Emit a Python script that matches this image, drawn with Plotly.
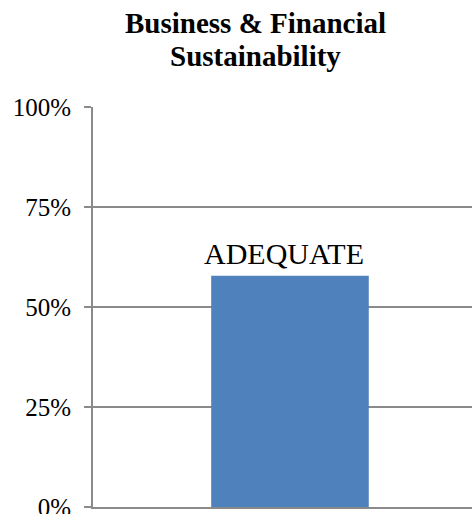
import plotly.graph_objects as go

categories = ["Business & Financial Sustainability"]
values = [0.578]
labels = ["ADEQUATE"]
title_lines = ["Business &amp; Financial", "Sustainability"]
tick_vals = [0, 0.25, 0.5, 0.75, 1.0]
tick_text = ["0%", "25%", "50%", "75%", "100%"]

GRID = "#8a8a8a"
SERIF = "Liberation Serif, Times New Roman, serif"

fig = go.Figure(
    go.Bar(
        x=categories,
        y=values,
        width=0.4,
        marker=dict(color="#4F81BD", line=dict(width=0)),
        cliponaxis=False,
    )
)

annotations = []
for cat, val, lab in zip(categories, values, labels):
    annotations.append(
        dict(
            text=lab,
            x=cat,
            y=val,
            xref="x",
            yref="y",
            xanchor="center",
            yanchor="bottom",
            xshift=-6,
            yshift=4,
            showarrow=False,
            font=dict(family=SERIF, size=30, color="black"),
        )
    )

# title lines (bottom of each line box in pixels from top)
for line, bottom_px in zip(title_lines, [41, 74]):
    annotations.append(
        dict(
            text="<b>" + line + "</b>",
            xref="paper",
            yref="paper",
            x=(255 - 93) / 379,
            y=(507 - bottom_px) / 400,
            xanchor="center",
            yanchor="bottom",
            showarrow=False,
            font=dict(family=SERIF, size=29, color="black"),
        )
    )

fig.update_layout(
    width=472,
    height=514,
    margin=dict(l=93, r=0, t=107, b=7, autoexpand=False),
    paper_bgcolor="white",
    plot_bgcolor="white",
    showlegend=False,
    annotations=annotations,
)

fig.update_xaxes(
    type="category",
    range=[-0.5, 0.462],
    showticklabels=False,
    showgrid=False,
    showline=True,
    linecolor=GRID,
    linewidth=2,
    ticks="",
    automargin=False,
)

fig.update_yaxes(
    range=[0, 1],
    tickvals=tick_vals,
    ticktext=tick_text,
    showgrid=True,
    gridcolor=GRID,
    gridwidth=2,
    zeroline=False,
    showline=True,
    linecolor=GRID,
    linewidth=2,
    ticks="outside",
    ticklen=7,
    tickwidth=2,
    tickcolor=GRID,
    ticklabelstandoff=8,
    ticklabeloverflow="allow",
    automargin=False,
    tickfont=dict(family=SERIF, size=25, color="black"),
)

fig.write_html("out.html")
